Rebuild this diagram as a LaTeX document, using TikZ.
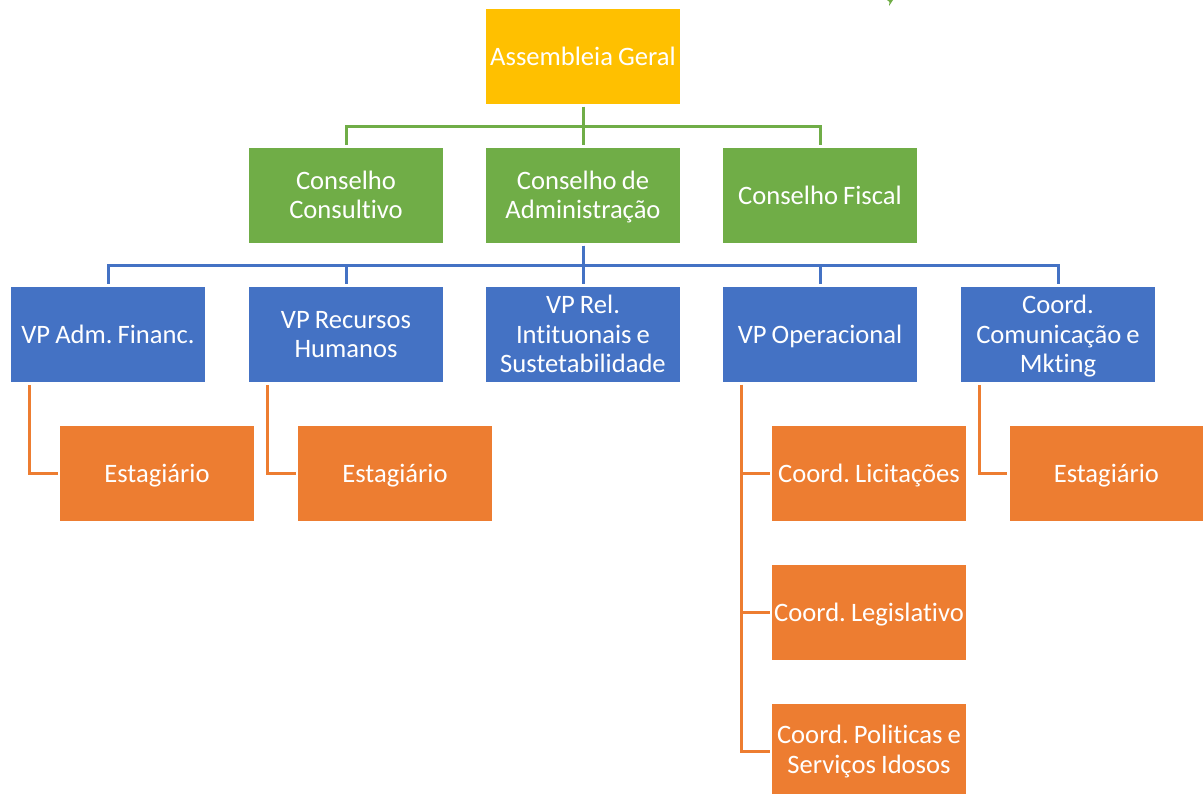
\documentclass[tikz,border=0pt]{standalone}
\usepackage{fontspec}
\setmainfont[Ligatures=NoCommon,WordSpace=0.85]{Carlito}
\usetikzlibrary{calc}
\definecolor{cgold}{HTML}{FFC000}
\definecolor{cgreen}{HTML}{70AD47}
\definecolor{cblue}{HTML}{4472C4}
\definecolor{corange}{HTML}{ED7D31}
\newcommand\lstr{\rule[-6.35pt]{0pt}{29.5pt}}
\tikzset{
  box/.style={rectangle,inner sep=0pt,minimum width=193.6pt,minimum height=95pt,align=center,text=white,font=\fontsize{26.6}{29.5}\selectfont\frenchspacing,anchor=north west},
  goldbox/.style={box,fill=cgold},
  greenbox/.style={box,fill=cgreen},
  bluebox/.style={box,fill=cblue},
  orangebox/.style={box,fill=corange},
  link/.style={line width=3pt,shorten <=2.5pt,shorten >=2.5pt},
  greenlink/.style={link,draw=cgreen},
  bluelink/.style={link,draw=cblue},
  orangelink/.style={link,draw=corange,line width=3pt}
}
\begin{document}
\begin{tikzpicture}[x=1pt,y=-1pt]
\useasboundingbox (0,0) rectangle (1203,794);
\fill[cgreen] (887,0) -- (893,0) -- (889,6) -- (889.5,2) -- cycle;
\node[goldbox] (ag) at (486,9) {\lstr Assembleia Geral};
\node[greenbox] (cc) at (249,148) {\lstr Conselho\\\lstr Consultivo};
\node[greenbox] (ca) at (486,148) {\lstr Conselho de\\\lstr Administração};
\node[greenbox] (cf) at (723,148) {\lstr Conselho Fiscal};
\node[bluebox] (v1) at (11,287) {\lstr VP Adm. Financ.};
\node[bluebox] (v2) at (249,287) {\lstr VP Recursos\\\lstr Humanos};
\node[bluebox] (v3) at (486,287) {\lstr VP Rel.\\\lstr Intituonais e\\\lstr Sustetabilidade};
\node[bluebox] (v4) at (723,287) {\lstr VP Operacional};
\node[bluebox] (v5) at (961,287) {\lstr Coord.\\\lstr Comunicação e\\\lstr Mkting};
\node[orangebox] (e1) at (60,426) {\lstr Estagiário};
\node[orangebox] (e2) at (298,426) {\lstr Estagiário};
\node[orangebox] (c1) at (772,426) {\lstr Coord. Licitações};
\node[orangebox] (e3) at (1009.4,426) {\lstr Estagiário};
\node[orangebox] (c2) at (772,565) {\lstr Coord. Legislativo};
\node[orangebox,minimum height=90pt] (c3) at (772,704) {\rule[-6.35pt]{0pt}{31.5pt}Coord. Politicas e\\\lstr Serviços Idosos};
\foreach \t in {cc,ca,cf}
  \draw[greenlink] (ag.south) -- ++(0,22) -| (\t.north);
\foreach \t in {v1,v2,v3,v4,v5}
  \draw[bluelink] (ca.south) -- ++(0,22) -| (\t.north);
\foreach \s/\t in {v1/e1,v2/e2,v5/e3}
  \draw[orangelink] ($(\s.south west)+(18,0)$) |- (\t.west);
\foreach \t in {c1,c2}
  \draw[orangelink] ($(v4.south west)+(18,0)$) |- (\t.west);
\draw[orangelink] ($(v4.south west)+(18,0)$) |- ($(c3.west)+(0,2)$);
\end{tikzpicture}
\end{document}
